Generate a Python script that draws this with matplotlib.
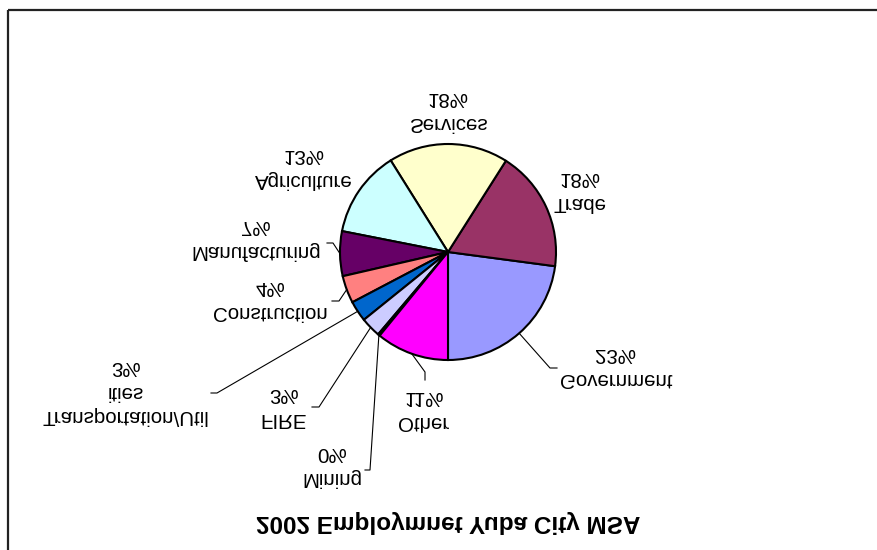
import numpy as np
import matplotlib
matplotlib.use('Agg')
from matplotlib import pyplot as plt
from matplotlib.patches import Rectangle

plt.rcParams['font.family'] = ['Liberation Sans', 'DejaVu Sans']

# data (shares of 2002 employment)
sectors = ['Government', 'Trade', 'Services', 'Agriculture', 'Manufacturing',
           'Construction', 'Transportation/Util\nities', 'FIRE', 'Mining', 'Other']
shares = [22.9, 18.1, 17.9, 13.0, 6.7, 4.1, 3.1, 3.0, 0.3, 10.9]
colors = ['#9999FF', '#993366', '#FFFFCC', '#CCFFFF', '#660066',
          '#FF8080', '#0066CC', '#CCCCFF', '#000080', '#FF00FF']
title = '2002 Employmnet Yuba City MSA'

# layout in pixel units (y up); the finished picture is flipped top to bottom
W, H = 877, 550
cx, cy, R = 448, 252, 108
label_pos = [(616, 368), (580, 192), (448, 112), (304, 169), (256, 240),
             (270, 301), (126, 393), (284, 408), (332, 467), (424, 411)]
# elbow and end of leader lines (None = no leader)
leaders = [((550, 368), (557, 368)), None, None, None,
           ((333, 243), (327, 243)), ((339, 301), (332, 301)),
           ((217, 393), (211, 393)), ((319, 407), (312, 407)),
           ((370, 470), (365, 470)), ((425, 372), (425, 380))]

fig = plt.figure(figsize=(W / 100, H / 100), dpi=100)
ax = fig.add_axes([0, 0, 1, 1])

ax.add_patch(Rectangle((8, 10.5), 900, 600, fill=False, lw=1.6, ec='#222222'))

wedges, _ = ax.pie(shares, colors=colors, center=(cx, cy), radius=R,
                   startangle=90, counterclock=False,
                   wedgeprops=dict(edgecolor='black', linewidth=1.5))
ax.set_xlim(0, W)
ax.set_ylim(0, H)
ax.set_aspect('auto')
ax.axis('off')

total = sum(shares)
for w, name, v, pos, ld in zip(wedges, sectors, shares, label_pos, leaders):
    ax.text(pos[0], pos[1], f'{name}\n{v / total * 100:.0f}%', ha='center',
            va='center', fontsize=14.8, linespacing=1.38, multialignment='center')
    if ld is not None:
        mid = np.deg2rad((w.theta1 + w.theta2) / 2)
        x0, y0 = cx + R * np.cos(mid), cy + R * np.sin(mid)
        ax.plot([x0, ld[0][0], ld[1][0]], [y0, ld[0][1], ld[1][1]],
                color='black', lw=0.8)

ax.text(448.5, 523, title, ha='center', va='center', fontsize=17.5,
        fontweight='bold')

fig.canvas.draw()
img = np.asarray(fig.canvas.buffer_rgba())
plt.imsave('out.png', img[::-1])
